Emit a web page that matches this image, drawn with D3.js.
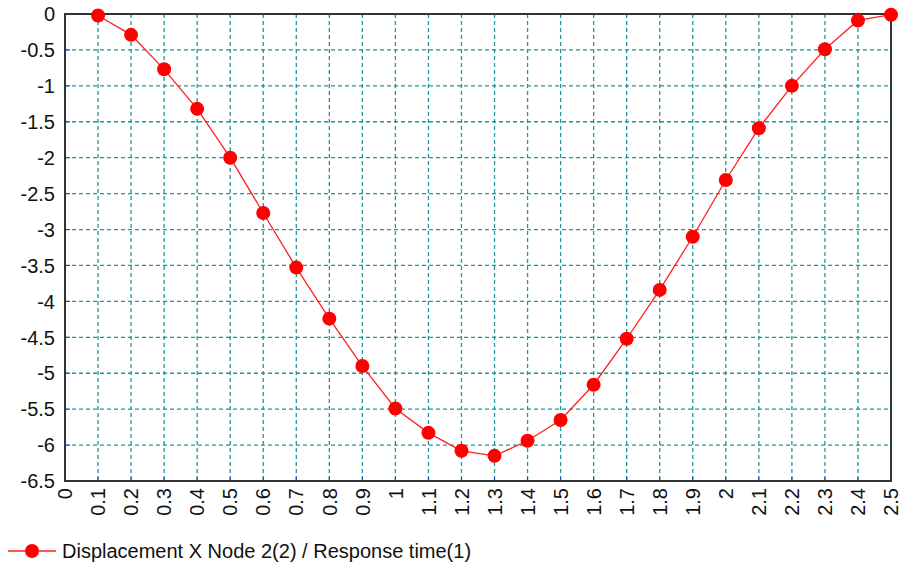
<!DOCTYPE html>
<html><head><meta charset="utf-8">
<script src="https://cdn.jsdelivr.net/npm/d3@7"></script>
<style>body{margin:0;background:#fff;}svg{display:block;}text{font-family:"Liberation Sans",Arial,sans-serif;}</style>
</head><body>
<svg id="c" width="912" height="568"></svg>
<script>
const times = [0.1,0.2,0.3,0.4,0.5,0.6,0.7,0.8,0.9,1.0,1.1,1.2,1.3,1.4,1.5,1.6,1.7,1.8,1.9,2.0,2.1,2.2,2.3,2.4,2.5];
const displacement = [-0.02,-0.29,-0.77,-1.32,-2.0,-2.77,-3.53,-4.24,-4.9,-5.49,-5.83,-6.08,-6.15,-5.94,-5.65,-5.16,-4.52,-3.84,-3.1,-2.31,-1.59,-1.0,-0.49,-0.09,-0.01];
const xTicks = [0,0.1,0.2,0.3,0.4,0.5,0.6,0.7,0.8,0.9,1,1.1,1.2,1.3,1.4,1.5,1.6,1.7,1.8,1.9,2,2.1,2.2,2.3,2.4,2.5];
const yTicks = [0,-0.5,-1,-1.5,-2,-2.5,-3,-3.5,-4,-4.5,-5,-5.5,-6,-6.5];
const seriesName = "Displacement X Node 2(2) / Response time(1)";

const svg = d3.select("#c");
const L = 65, R = 891, T = 14, B = 481;
const x = d3.scaleLinear().domain([0, 2.5]).range([L, R]);
const y = d3.scaleLinear().domain([-6.5, 0]).range([B, T]);
const fmt = d => String(+d.toFixed(1));

// grid
const grid = svg.append("g").attr("stroke", "#1f9696").attr("stroke-width", 1.3).attr("stroke-dasharray", "4,3");
xTicks.filter(t => t > 0 && t < 2.5).forEach(t => {
  grid.append("line").attr("x1", x(t)).attr("x2", x(t)).attr("y1", T).attr("y2", B);
});
yTicks.filter(t => t < 0 && t > -6.5).forEach(t => {
  grid.append("line").attr("x1", L).attr("x2", R).attr("y1", y(t)).attr("y2", y(t));
});

// small blue ticks
const bt = svg.append("g").attr("stroke", "#3030ff").attr("stroke-width", 1);
xTicks.filter(t => t > 0 && t < 2.5).forEach(t => {
  bt.append("line").attr("x1", x(t)).attr("x2", x(t)).attr("y1", B - 4).attr("y2", B);
});
yTicks.filter(t => t < 0 && t > -6.5).forEach(t => {
  bt.append("line").attr("x1", L).attr("x2", L + 5).attr("y1", y(t)).attr("y2", y(t));
});

// frame
svg.append("rect").attr("x", L).attr("y", T).attr("width", R - L).attr("height", B - T)
  .attr("fill", "none").attr("stroke", "#333").attr("stroke-width", 2);

// y labels
svg.append("g").selectAll("text").data(yTicks).join("text")
  .attr("x", L - 10).attr("y", d => y(d)).attr("dy", "0.36em")
  .attr("text-anchor", "end").attr("font-size", 20).attr("fill", "#111")
  .text(fmt);

// x labels (rotated)
svg.append("g").selectAll("text").data(xTicks).join("text")
  .attr("transform", d => `translate(${x(d)},${B + 7}) rotate(-90)`)
  .attr("dy", "0.36em").attr("text-anchor", "end").attr("font-size", 20).attr("fill", "#111")
  .text(fmt);

// series line
const data = times.map((t, i) => [t, displacement[i]]);
svg.append("path").datum(data)
  .attr("fill", "none").attr("stroke", "#ff2020").attr("stroke-width", 1.3)
  .attr("d", d3.line().x(d => x(d[0])).y(d => y(d[1])));
svg.append("g").selectAll("circle").data(data).join("circle")
  .attr("cx", d => x(d[0])).attr("cy", d => y(d[1])).attr("r", 7)
  .attr("fill", "#ff0000");

// legend
const lg = svg.append("g");
lg.append("line").attr("x1", 8).attr("x2", 56).attr("y1", 551).attr("y2", 551)
  .attr("stroke", "#ff2020").attr("stroke-width", 1.3);
lg.append("circle").attr("cx", 32).attr("cy", 551).attr("r", 7).attr("fill", "#ff0000");
lg.append("text").attr("x", 62).attr("y", 558).attr("font-size", 20).attr("fill", "#111").text(seriesName);
</script>
</body></html>
